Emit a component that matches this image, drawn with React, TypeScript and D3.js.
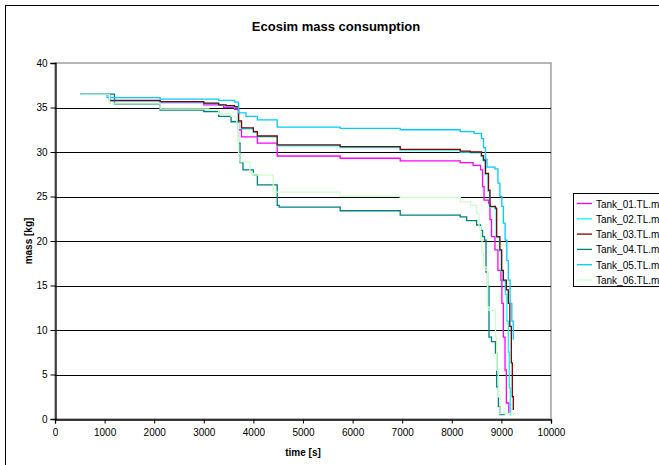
import React, { useEffect, useRef } from "react";
import * as d3 from "d3";

const seriesNames = ["Tank_01.TL.m", "Tank_02.TL.m", "Tank_03.TL.m", "Tank_04.TL.m", "Tank_05.TL.m", "Tank_06.TL.m"];
const xTicks = [0, 1000, 2000, 3000, 4000, 5000, 6000, 7000, 8000, 9000, 10000];
const yTicks = [0, 5, 10, 15, 20, 25, 30, 35, 40];

// [time s, mass kg] breakpoints
const tank01 = [[520, 36.5], [1100, 35.75], [2120, 35.55], [3000, 35.3], [3400, 35.0], [3620, 34.8], [3700, 32.5], [3760, 31.7], [4080, 31.0], [4480, 29.55], [5750, 29.3], [6960, 29.0], [8170, 28.8], [8430, 28.5], [8580, 28.0], [8620, 26.1], [8650, 24.6], [8740, 24.2], [8770, 22.4], [8800, 20.5], [8870, 19.0], [8930, 16.7], [8990, 15.6], [9010, 13.0], [9040, 9.2], [9073, 5.5], [9100, 1.8], [9150, 0.6]];
const tank02 = [[520, 36.5], [1100, 35.75], [2120, 35.6], [3000, 35.45], [3300, 35.25], [3450, 35.15], [3620, 35.0], [3700, 33.4], [3760, 32.6], [4000, 32.2], [4080, 31.7], [4480, 30.7], [5750, 30.5], [6960, 30.2], [8170, 30.0], [8370, 29.9], [8590, 29.5], [8630, 29.0], [8670, 27.5], [8730, 25.6], [8760, 23.8], [8870, 23.6], [8895, 20.4], [8960, 18.9], [8995, 16.6], [9030, 15.5], [9080, 14.0], [9110, 11.0], [9140, 7.5], [9160, 3.5], [9180, 0.4]];
const tank03 = [[520, 36.5], [1100, 35.8], [2120, 35.65], [3000, 35.5], [3300, 35.3], [3450, 35.2], [3620, 35.1], [3700, 33.5], [3760, 32.7], [4000, 32.3], [4080, 31.8], [4480, 30.8], [5750, 30.6], [6960, 30.3], [8170, 30.1], [8370, 30.0], [8600, 29.6], [8640, 29.1], [8680, 27.6], [8740, 25.7], [8770, 23.9], [8880, 23.7], [8905, 20.5], [8970, 19.0], [9006, 16.7], [9040, 15.6], [9100, 14.5], [9140, 13.0], [9170, 10.4], [9200, 6.3], [9220, 2.5], [9240, 1.0]];
const tank04 = [[520, 36.5], [1200, 35.4], [2120, 34.7], [3000, 34.55], [3300, 34.0], [3550, 33.4], [3700, 31.0], [3730, 28.8], [3790, 28.0], [4000, 27.4], [4080, 26.3], [4480, 24.0], [4520, 23.8], [5750, 23.4], [6960, 22.9], [8170, 22.7], [8300, 22.3], [8500, 21.8], [8580, 21.2], [8620, 20.5], [8660, 20.1], [8690, 16.5], [8720, 14.9], [8750, 9.2], [8800, 8.7], [8880, 7.4], [8905, 3.6], [8940, 1.4], [8972, 0.5], [9070, 0.5]];
const tank05 = [[520, 36.5], [1050, 36.1], [2120, 35.95], [3300, 35.8], [3620, 35.6], [3700, 34.4], [3850, 34.0], [4080, 33.6], [4480, 32.8], [5750, 32.65], [6960, 32.5], [8170, 32.3], [8450, 32.1], [8600, 31.5], [8640, 30.5], [8680, 29.2], [8710, 28.3], [8870, 28.1], [8930, 26.5], [8970, 25.0], [9010, 23.9], [9040, 22.0], [9075, 20.1], [9110, 17.8], [9140, 15.6], [9175, 13.0], [9210, 11.0], [9240, 8.9]];
const tank06 = [[520, 36.5], [1100, 35.5], [2120, 34.85], [3100, 34.7], [3300, 34.3], [3550, 34.0], [3663, 33.2], [3700, 29.85], [3730, 28.9], [3930, 27.6], [4000, 27.4], [4400, 25.5], [5750, 25.05], [6960, 24.9], [8170, 24.4], [8380, 24.0], [8500, 23.1], [8550, 21.6], [8580, 20.1], [8610, 18.6], [8640, 17.1], [8690, 16.7], [8720, 12.6], [8750, 12.2], [8880, 9.2], [8905, 5.5], [8940, 2.5], [8972, 0.6], [9280, 0.6]];

const allSeries = [tank01, tank02, tank03, tank04, tank05, tank06];
const colors = ["#ff00ff", "#00ffff", "#800000", "#008080", "#00ccff", "#ccffcc"];

export default function App() {
  const ref = useRef<SVGSVGElement>(null);

  useEffect(() => {
    const svg = d3.select(ref.current);
    svg.selectAll("*").remove();

    var margin = { left: 55, top: 63, right: 551, bottom: 419 };
    const font = "Arial, 'Liberation Sans', sans-serif";

    svg.append("rect")
      .attr("x", 5.5).attr("y", 5.5)
      .attr("width", 700).attr("height", 470)
      .attr("fill", "white").attr("stroke", "black");

    const x = d3.scaleLinear().domain([0, 10000]).range([margin.left, margin.right]);
    const y = d3.scaleLinear().domain([0, 40]).range([margin.bottom, margin.top]);

    // plot area border
    svg.append("rect")
      .attr("x", margin.left).attr("y", margin.top)
      .attr("width", margin.right - margin.left).attr("height", margin.bottom - margin.top)
      .attr("fill", "none").attr("stroke", "#a0a0a0").attr("stroke-width", 1.5);

    // gridlines
    svg.selectAll(".grid").data(yTicks.filter(d => d > 0 && d < 40)).join("line")
      .attr("class", "grid")
      .attr("x1", margin.left).attr("x2", margin.right)
      .attr("y1", d => Math.round(y(d)) + 0.5).attr("y2", d => Math.round(y(d)) + 0.5)
      .attr("stroke", "black");

    const yAxis = svg.append("g")
      .attr("transform", `translate(${margin.left + 0.5},0)`)
      .call(d3.axisLeft(y).tickValues(yTicks).tickSize(5).tickPadding(3).tickFormat(d3.format("d")));
    const xAxis = svg.append("g")
      .attr("transform", `translate(0,${margin.bottom + 0.5})`)
      .call(d3.axisBottom(x).tickValues(xTicks).tickSize(4).tickPadding(5).tickFormat(d3.format("d")));
    [xAxis, yAxis].forEach(a => {
      a.select(".domain").attr("stroke", "black").attr("stroke-width", 1.3);
      a.selectAll("text").attr("font-family", font).attr("font-size", 10).attr("fill", "black");
    });

    const line = d3.line<number[]>()
      .x(d => x(d[0]))
      .y(d => y(d[1]))
      .curve(d3.curveStepAfter);

    svg.selectAll(".series").data(allSeries).join("path")
      .attr("class", "series")
      .attr("d", d => line(d))
      .attr("fill", "none")
      .attr("stroke", (d, i) => colors[i])
      .attr("stroke-width", 1.3);

    svg.append("text")
      .attr("x", 336).attr("y", 31)
      .attr("text-anchor", "middle")
      .attr("font-family", font).attr("font-size", 13).attr("font-weight", "bold")
      .text("Ecosim mass consumption");

    svg.append("text")
      .attr("x", 303).attr("y", 456)
      .attr("text-anchor", "middle")
      .attr("font-family", font).attr("font-size", 10).attr("font-weight", "bold")
      .text("time [s]");

    svg.append("text")
      .attr("transform", `translate(32,${(margin.top + margin.bottom) / 2}) rotate(-90)`)
      .attr("text-anchor", "middle")
      .attr("font-family", font).attr("font-size", 10).attr("font-weight", "bold")
      .text("mass [kg]");

    // legend
    const legend = svg.append("g");
    legend.append("rect")
      .attr("x", 573.5).attr("y", 193.5)
      .attr("width", 120).attr("height", 93)
      .attr("fill", "white").attr("stroke", "black");
    const items = legend.selectAll(".item").data(seriesNames).join("g")
      .attr("class", "item")
      .attr("transform", (d, i) => `translate(0,${203.5 + i * 15.3})`);
    items.append("line")
      .attr("x1", 577).attr("x2", 592)
      .attr("stroke", (d, i) => colors[i]).attr("stroke-width", 1.3);
    items.append("text")
      .attr("x", 596).attr("y", 4)
      .attr("font-family", font).attr("font-size", 10)
      .text(d => d);
  }, []);

  return (
    <svg ref={ref} width={659} height={465} style={{ position: "absolute", left: 0, top: 0 }} />
  );
}
